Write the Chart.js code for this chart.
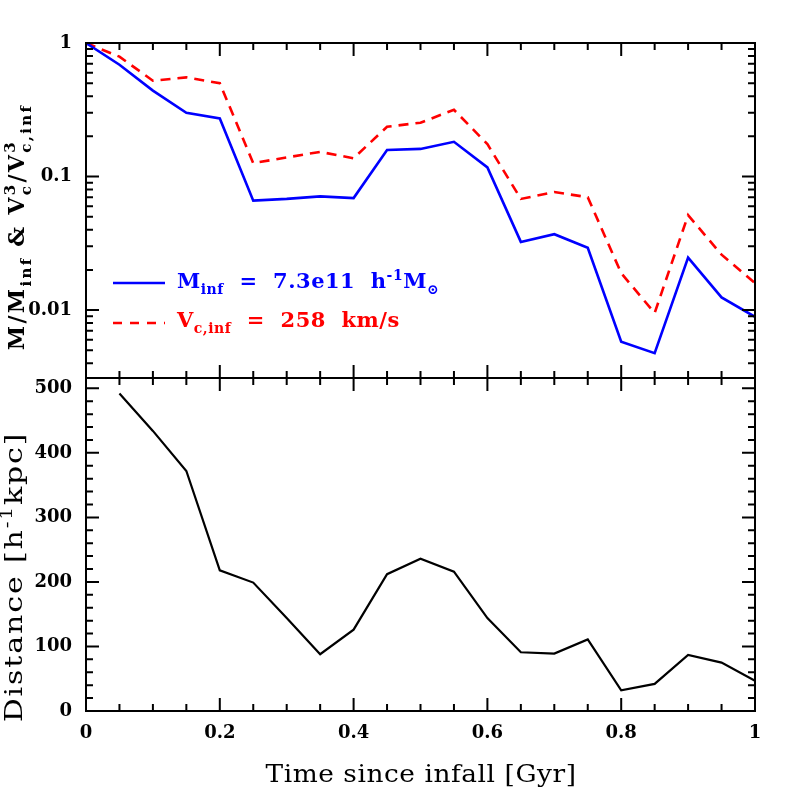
<!DOCTYPE html>
<html><head><meta charset="utf-8">
<script src="https://cdn.jsdelivr.net/npm/chart.js@4.4.0/dist/chart.umd.min.js"></script>
<style>
html,body{margin:0;padding:0;background:#fff;}
#wrap{position:relative;width:797px;height:797px;background:#fff;}
#c1{position:absolute;left:0;top:0;}
#c2{position:absolute;left:0;top:378px;}
</style></head><body>
<div id="wrap">
<canvas id="c1" width="797" height="378"></canvas>
<canvas id="c2" width="797" height="419"></canvas>
</div>
<script>
// ---- data ----
const TIME = [0,0.05,0.1,0.15,0.2,0.25,0.3,0.35,0.4,0.45,0.5,0.55,0.6,0.65,0.7,0.75,0.8,0.85,0.9,0.95,1];
const MASS_RATIO = [1.0,0.687,0.44,0.30,0.272,0.066,0.068,0.071,0.069,0.158,0.161,0.182,0.117,0.0324,0.037,0.0293,0.0058,0.00476,0.0247,0.01245,0.0089];
const VC3_RATIO = [1.0,0.79,0.522,0.553,0.50,0.126,0.139,0.153,0.137,0.236,0.253,0.316,0.175,0.068,0.0765,0.070,0.0189,0.0095,0.0514,0.026,0.0159];
const DIST_TIME = [0.05,0.1,0.15,0.2,0.25,0.3,0.35,0.4,0.45,0.5,0.55,0.6,0.65,0.7,0.75,0.8,0.85,0.9,0.95,1];
const DISTANCE = [492,434,372,218,199,144,88,126,212,236,216,144,91,89,111,32,42,87,75,47];

// ---- ticks ----
const X_MAJOR = [0,0.2,0.4,0.6,0.8,1];
const X_MINOR = [0.05,0.1,0.15,0.25,0.3,0.35,0.45,0.5,0.55,0.65,0.7,0.75,0.85,0.9,0.95];
const Y_TOP_MAJOR = [0.01,0.1,1];
const Y_TOP_MINOR = [0.004,0.005,0.006,0.007,0.008,0.009,0.02,0.03,0.04,0.05,0.06,0.07,0.08,0.09,0.2,0.3,0.4,0.5,0.6,0.7,0.8,0.9];
const Y_BOT_MAJOR = [0,100,200,300,400,500];
const Y_BOT_MINOR = [20,40,60,80,120,140,160,180,220,240,260,280,320,340,360,380,420,440,460,480];

const SERIF = "'DejaVu Serif'";
const TICK_FONT = {family:"DejaVu Serif", weight:'bold', size:18};

function drawRich(ctx, it){
  ctx.save();
  ctx.translate(it.x, it.y);
  ctx.rotate(it.rot||0);
  ctx.scale(it.sx||1, 1);
  ctx.fillStyle = it.color||'#000';
  ctx.textBaseline = 'alphabetic';
  ctx.textAlign = 'left';
  if ('letterSpacing' in ctx) ctx.letterSpacing = (it.spacing||0)+'px';
  const w = it.weight||'normal';
  const big = w+' '+it.size+'px '+SERIF;
  const small = w+' '+Math.round(it.size*0.68)+'px '+SERIF;
  const widths = it.segs.map(s=>{
    if (s.t!==undefined){ctx.font=big;return ctx.measureText(s.t).width;}
    ctx.font=small;
    return Math.max(s.sup?ctx.measureText(s.sup).width:0, s.sub?ctx.measureText(s.sub).width:0);
  });
  const total = widths.reduce((a,b)=>a+b,0);
  let cx = it.align==='center' ? -total/2 : 0;
  it.segs.forEach((s,i)=>{
    if (s.t!==undefined){ctx.font=big;ctx.fillText(s.t,cx,0);}
    else {
      ctx.font=small;
      if (s.sup) ctx.fillText(s.sup,cx,-it.size*0.40);
      if (s.sub) ctx.fillText(s.sub,cx,it.size*0.30);
    }
    cx+=widths[i];
  });
  ctx.restore();
}

const framePlugin = {
  id:'frameTicks',
  afterDraw(chart, args, o){
    const ctx = chart.ctx, a = chart.chartArea;
    const xs = chart.scales.x, ys = chart.scales.y;
    ctx.save();
    ctx.strokeStyle='#000';
    ctx.lineWidth=2;
    ctx.beginPath();
    const tick=(vals,len,isX)=>{
      vals.forEach(v=>{
        if (isX){
          const p = xs.getPixelForValue(v);
          ctx.moveTo(p,a.bottom);ctx.lineTo(p,a.bottom-len);
          ctx.moveTo(p,a.top);ctx.lineTo(p,a.top+len);
        } else {
          const p = ys.getPixelForValue(v);
          ctx.moveTo(a.left,p);ctx.lineTo(a.left+len,p);
          ctx.moveTo(a.right,p);ctx.lineTo(a.right-len,p);
        }
      });
    };
    tick(o.xMajor,13,true); tick(o.xMinor,7,true);
    tick(o.yMajor,13,false); tick(o.yMinor,7,false);
    ctx.stroke();
    ctx.strokeRect(a.left,a.top,a.right-a.left,a.bottom-a.top);
    (o.samples||[]).forEach(s=>{
      ctx.beginPath();
      ctx.strokeStyle=s.color; ctx.lineWidth=s.width; ctx.setLineDash(s.dash||[]);
      ctx.moveTo(s.x0,s.y);ctx.lineTo(s.x1,s.y);ctx.stroke();
    });
    ctx.setLineDash([]);
    ctx.restore();
    (o.texts||[]).forEach(t=>drawRich(ctx,t));
  }
};

const noPad = s=>{s.paddingTop=0;s.paddingBottom=0;s.paddingLeft=0;s.paddingRight=0;};

const common = {
  responsive:false, animation:false,
  plugins:{legend:{display:false}, tooltip:{enabled:false}},
  elements:{point:{radius:0}, line:{tension:0}}
};

new Chart(document.getElementById('c1'), {
  type:'line',
  data:{datasets:[
    {label:'M/M_inf', data:TIME.map((t,i)=>({x:t,y:MASS_RATIO[i]})), borderColor:'#0000ff', borderWidth:2.6, fill:false},
    {label:'Vc^3/Vc,inf^3', data:TIME.map((t,i)=>({x:t,y:VC3_RATIO[i]})), borderColor:'#ff0000', borderWidth:2.6, borderDash:[10,7], fill:false}
  ]},
  options:{...common,
    layout:{autoPadding:false, padding:{left:0,right:42,top:43,bottom:0}},
    scales:{
      x:{type:'linear', min:0, max:1, display:false, afterFit:s=>{s.height=0;noPad(s);}},
      y:{type:'logarithmic', min:0.0031, max:1,
         afterBuildTicks:s=>{s.ticks=Y_TOP_MAJOR.map(v=>({value:v}));},
         afterFit:s=>{s.width=86;noPad(s);},
         grid:{display:false, drawTicks:false},
         border:{display:false},
         ticks:{padding:14, color:'#000', font:TICK_FONT, callback:v=>String(v)}
      }
    },
    plugins:{...common.plugins,
      frameTicks:{xMajor:X_MAJOR,xMinor:X_MINOR,yMajor:Y_TOP_MAJOR,yMinor:Y_TOP_MINOR,
        samples:[
          {x0:113,x1:165,y:283,color:'#0000ff',width:2.6},
          {x0:113,x1:165,y:323,color:'#ff0000',width:2.6,dash:[9,8]}
        ],
        texts:[
          {x:24,y:227,rot:-Math.PI/2,size:22,weight:'bold',spacing:2.3,align:'center',color:'#000',
           segs:[{t:'M/M'},{sub:'inf'},{t:' & V'},{sup:'3',sub:'c'},{t:'/V'},{sup:'3',sub:'c,inf'}]},
          {x:177,y:288,size:21,weight:'bold',spacing:0.5,color:'#0000ff',
           segs:[{t:'M'},{sub:'inf'},{t:'  =  7.3e11  h'},{sup:'-1'},{t:'M'},{sub:'\u2299'}]},
          {x:177,y:327,size:21,weight:'bold',spacing:0.5,color:'#ff0000',
           segs:[{t:'V'},{sub:'c,inf'},{t:'  =  258  km/s'}]}
        ]}
    }
  },
  plugins:[framePlugin]
});

new Chart(document.getElementById('c2'), {
  type:'line',
  data:{datasets:[
    {label:'Distance', data:DIST_TIME.map((t,i)=>({x:t,y:DISTANCE[i]})), borderColor:'#000', borderWidth:2.2, fill:false}
  ]},
  options:{...common,
    layout:{autoPadding:false, padding:{left:0,right:42,top:0,bottom:0}},
    scales:{
      x:{type:'linear', min:0, max:1,
         afterBuildTicks:s=>{s.ticks=X_MAJOR.map(v=>({value:v}));},
         afterFit:s=>{s.height=86;noPad(s);},
         grid:{display:false, drawTicks:false},
         border:{display:false},
         ticks:{padding:12, color:'#000', font:TICK_FONT, maxRotation:0, autoSkip:false, callback:v=>String(v)}
      },
      y:{type:'linear', min:0, max:516,
         afterBuildTicks:s=>{s.ticks=Y_BOT_MAJOR.map(v=>({value:v}));},
         afterFit:s=>{s.width=86;noPad(s);},
         grid:{display:false, drawTicks:false},
         border:{display:false},
         ticks:{padding:14, color:'#000', font:TICK_FONT, callback:v=>String(v)}
      }
    },
    plugins:{...common.plugins,
      frameTicks:{xMajor:X_MAJOR,xMinor:X_MINOR,yMajor:Y_BOT_MAJOR,yMinor:Y_BOT_MINOR,
        texts:[
          {x:421,y:404,size:24,weight:'normal',spacing:0.5,sx:1.1,align:'center',color:'#000',
           segs:[{t:'Time since infall [Gyr]'}]},
          {x:22,y:199,rot:-Math.PI/2,size:24,weight:'normal',spacing:1.5,sx:1.25,align:'center',color:'#000',
           segs:[{t:'Distance [h'},{sup:'-1'},{t:'kpc]'}]}
        ]}
    }
  },
  plugins:[framePlugin]
});
</script>
</body></html>
